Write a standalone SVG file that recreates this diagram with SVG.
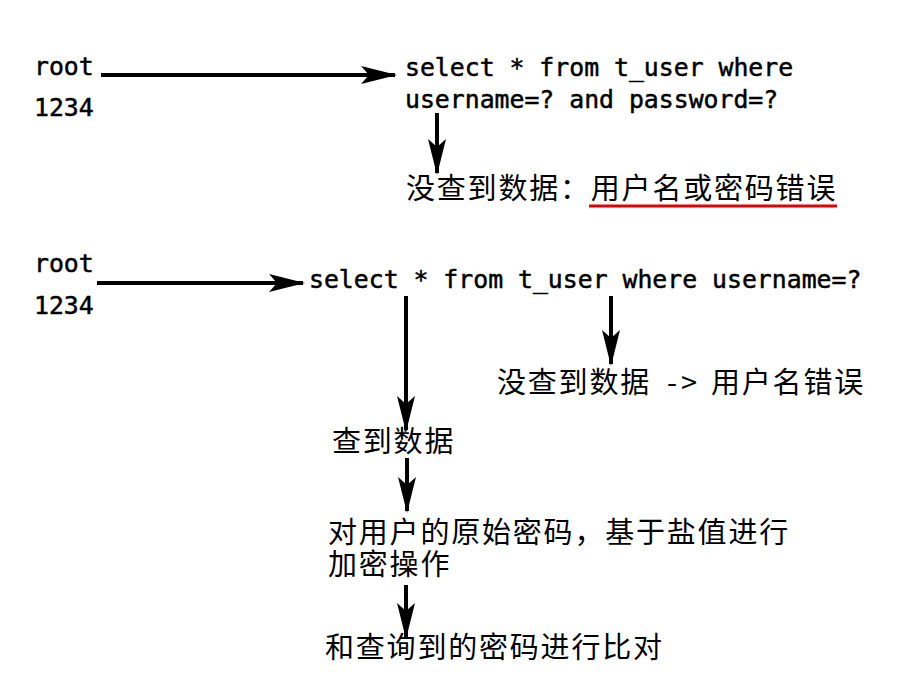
<svg xmlns="http://www.w3.org/2000/svg" width="897" height="679" viewBox="0 0 897 679">
<style>
.m{font-family:"DejaVu Sans Mono","Liberation Mono",monospace;font-size:24.8px;fill:#000;stroke:#000;stroke-width:0.5}
.c{font-family:"Noto Sans CJK SC","Noto Sans",sans-serif;font-size:29px;letter-spacing:1.8px;fill:#000}
.ln{stroke:#000;stroke-width:4;fill:none}
</style>
<defs>
<marker id="ah" markerUnits="userSpaceOnUse" markerWidth="36" markerHeight="20" viewBox="0 0 36 20" refX="34" refY="10" orient="auto">
<polygon points="0,1 36,10 0,19 8,10" fill="#000"/>
</marker>
</defs>
<rect width="897" height="679" fill="#fff"/>
<g id="connectors">
<line class="ln" x1="101" y1="75" x2="395" y2="75" marker-end="url(#ah)"/>
<line class="ln" x1="437" y1="113" x2="437" y2="173" marker-end="url(#ah)"/>
<line class="ln" x1="97" y1="283" x2="303" y2="283" marker-end="url(#ah)"/>
<line class="ln" x1="406" y1="296" x2="406" y2="430" marker-end="url(#ah)"/>
<line class="ln" x1="611" y1="296" x2="611" y2="364" marker-end="url(#ah)"/>
<line class="ln" x1="407" y1="458" x2="407" y2="511" marker-end="url(#ah)"/>
<line class="ln" x1="406" y1="585" x2="406" y2="637" marker-end="url(#ah)"/>
</g>
<g id="input1">
<text class="m" x="34" y="75">root</text>
<text class="m" x="34" y="116">1234</text>
</g>
<g id="query1">
<text class="m" x="405" y="76">select * from t_user where</text>
<text class="m" x="405" y="108">username=? and password=?</text>
</g>
<g id="result1">
<text class="c" x="406" y="199">没查到数据：用户名或密码错误</text>
<line x1="589" y1="206" x2="837" y2="206" stroke="#e00000" stroke-width="3"/>
</g>
<g id="input2">
<text class="m" x="34" y="272">root</text>
<text class="m" x="34" y="314">1234</text>
</g>
<g id="query2">
<text class="m" x="309" y="288">select * from t_user where username=?</text>
</g>
<g id="result2">
<text class="c" x="497" y="393">没查到数据<tspan x="667" letter-spacing="4">-&gt;</tspan><tspan x="711">用户名错误</tspan></text>
</g>
<g id="found">
<text class="c" x="332" y="452">查到数据</text>
</g>
<g id="encrypt">
<text class="c" x="328" y="543">对用户的原始密码，基于盐值进行</text>
<text class="c" x="328" y="575">加密操作</text>
</g>
<g id="compare">
<text class="c" x="325" y="658">和查询到的密码进行比对</text>
</g>
</svg>
